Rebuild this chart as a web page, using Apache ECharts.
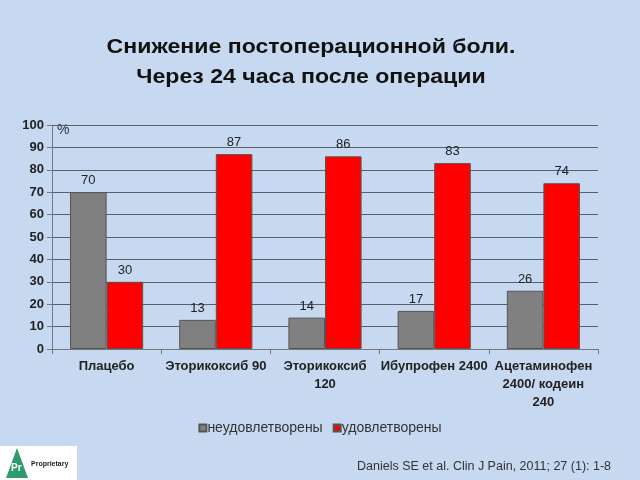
<!DOCTYPE html>
<html><head><meta charset="utf-8">
<script src="https://cdn.jsdelivr.net/npm/echarts@6/dist/echarts.min.js"></script>
<style>html,body{margin:0;padding:0;background:#c6d9f1;}#c{width:640px;height:480px;}</style>
</head><body><div id="c"></div>
<script>
var categories = ['Плацебо', 'Эторикоксиб 90', 'Эторикоксиб\n120', 'Ибупрофен 2400', 'Ацетаминофен\n2400/ кодеин\n240'];
var unsatisfied = [70, 13, 14, 17, 26];
var satisfied = [30, 87, 86, 83, 74];
var seriesNames = ['неудовлетворены', 'удовлетворены'];
var yTicks = [0, 10, 20, 30, 40, 50, 60, 70, 80, 90, 100];

var chart = echarts.init(document.getElementById('c'), null, {renderer: 'canvas'});
var lblFont = {fontFamily: 'Liberation Sans', fontSize: 13, color: '#222'};
chart.setOption({
  backgroundColor: '#c6d9f1',
  animation: false,
  grid: {left: 52, right: 42, top: 125, bottom: 131},
  legend: {
    top: 416, left: 'center',
    itemWidth: 7, itemHeight: 7, itemGap: 10,
    icon: 'rect',
    textStyle: {fontFamily: 'Liberation Sans', fontSize: 14, color: '#333', padding: [0, 0, 0, -4]},
    data: seriesNames
  },
  xAxis: {
    type: 'category', data: categories,
    axisLine: {lineStyle: {color: '#777', width: 1}},
    axisTick: {show: true, length: 5, lineStyle: {color: '#777'}},
    axisLabel: {interval: 0, fontFamily: 'Liberation Sans', fontWeight: 'bold', fontSize: 13, color: '#222', lineHeight: 18, margin: 8}
  },
  yAxis: {
    type: 'value', min: 0, max: 100, interval: 10,
    axisLine: {show: true, lineStyle: {color: '#777'}},
    axisTick: {show: true, length: 5, lineStyle: {color: '#777'}},
    splitLine: {lineStyle: {color: '#5a5e66', width: 1}},
    axisLabel: {fontFamily: 'Liberation Sans', fontWeight: 'bold', fontSize: 13, color: '#222', margin: 8,
      formatter: function (v) { return yTicks.indexOf(v) >= 0 ? String(v) : ''; }}
  },
  series: [
    {name: seriesNames[0], type: 'bar', data: unsatisfied, barGap: '0%', barCategoryGap: '33%',
      itemStyle: {color: '#808080', borderColor: '#555', borderWidth: 1},
      label: Object.assign({show: true, position: 'top', distance: 5}, lblFont)},
    {name: seriesNames[1], type: 'bar', data: satisfied,
      itemStyle: {color: '#ff0000', borderColor: '#555', borderWidth: 1},
      label: Object.assign({show: true, position: 'top', distance: 5}, lblFont)}
  ],
  graphic: [
    {type: 'text', x: 311, y: 32, scaleX: 1.1,
      style: {text: 'Снижение постоперационной боли.\nЧерез 24 часа после операции', textAlign: 'center',
        fontFamily: 'Liberation Sans', fontWeight: 'bold', fontSize: 21, lineHeight: 30, fill: '#111'}},
    {type: 'text', left: 57, top: 123, style: {text: '%', fontFamily: 'Liberation Sans', fontSize: 14, fill: '#333'}},
    {type: 'rect', shape: {x: 0, y: 446, width: 77, height: 34}, style: {fill: '#ffffff'}},
    {type: 'polygon', shape: {points: [[6, 478], [17, 448], [28, 478]]}, style: {fill: '#2e9a6e'}},
    {type: 'text', x: 11, y: 463, style: {text: 'Pr', fontFamily: 'Liberation Sans', fontWeight: 'bold', fontSize: 10, fill: '#fff'}},
    {type: 'text', x: 31, y: 461, style: {text: 'Proprietary', fontFamily: 'Liberation Sans', fontWeight: 'bold', fontSize: 7, fill: '#222'}},
    {type: 'text', x: 357, y: 460, style: {text: 'Daniels SE et al. Clin J Pain, 2011; 27 (1): 1-8', fontFamily: 'Liberation Sans', fontSize: 12.5, fill: '#333'}}
  ]
});
</script></body></html>
